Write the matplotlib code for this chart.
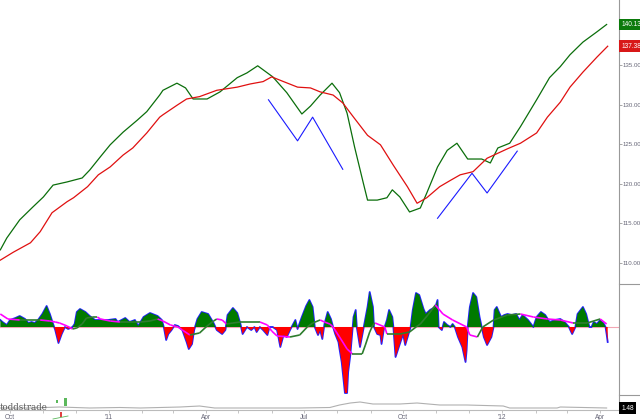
import matplotlib
matplotlib.use("Agg")
import matplotlib.pyplot as plt
import numpy as np
from matplotlib.collections import LineCollection
from matplotlib.lines import Line2D
from matplotlib.patches import Rectangle

W, H = 640, 420
AXIS_RIGHT = 619

# days counted from 1 Oct 2010
green_days = [-9, -3, 9, 21, 31, 40, 53, 67, 74, 84, 93, 105, 118, 127, 139, 142, 155, 163, 170, 183,
              195, 211, 220, 230, 244, 257, 271, 279, 288, 299, 306, 313, 320, 328, 332, 341, 350, 355, 362, 371,
              381, 387, 397, 406, 415, 425, 438, 446, 453, 464, 474, 489, 501, 511, 520, 532, 545, 554]
green_vals = [111.6, 113.1, 115.4, 117.0, 118.3, 119.8, 120.2, 120.7, 121.7, 123.4, 124.9, 126.5, 128.0, 129.1,
              131.2, 131.8, 132.7, 132.1, 130.7, 130.7, 131.6, 133.4, 134.0, 134.9, 133.5, 131.5, 128.8, 129.8,
              131.2, 132.7, 131.5, 128.9, 124.6, 120.1, 117.9, 117.9, 118.2, 119.2, 118.3, 116.4, 116.9, 118.8,
              122.1, 124.2, 125.1, 123.1, 123.1, 122.6, 124.5, 125.1, 127.2, 130.6, 133.4, 134.8, 136.3, 137.9,
              139.2, 140.13]

red_days = [-9, 3, 19, 28, 39, 53, 59, 72, 82, 93, 105, 114, 127, 139, 142, 155, 164, 176, 192, 211,
            223, 235, 243, 254, 267, 279, 288, 300, 309, 319, 332, 344, 356, 369, 378, 387, 399, 409, 418, 430,
            443, 462, 474, 489, 499, 511, 520, 532, 545, 555]
red_vals = [110.3, 111.3, 112.5, 113.9, 116.3, 117.7, 118.2, 119.6, 121.1, 122.1, 123.6, 124.5, 126.4, 128.4,
            128.7, 129.9, 130.7, 131.0, 131.8, 132.2, 132.6, 132.9, 133.5, 132.9, 132.2, 132.1, 131.6, 131.2,
            130.2, 128.4, 126.1, 124.9, 122.3, 119.6, 117.5, 118.2, 119.6, 120.4, 121.1, 121.5, 123.2, 124.4,
            125.1, 126.4, 128.4, 130.3, 132.2, 134.1, 136.0, 137.38]

zig1_days = [240, 267, 281, 309]
zig1_vals = [130.6, 125.4, 128.4, 121.8]
zig2_days = [397, 429, 443, 471]
zig2_vals = [115.6, 121.3, 118.8, 124.1]

osc_days = [-9, -7, -3, 0, 5, 9, 14, 17, 20, 23, 26, 30, 34, 37, 40, 42, 45, 48, 51, 54,
            58, 60, 62, 65, 70, 74, 79, 84, 86, 91, 98, 100, 107, 111, 116, 119, 124, 130, 137, 141,
            143, 145, 147, 150, 153, 156, 160, 164, 166, 169, 171, 174, 178, 184, 189, 192, 197, 200, 202, 207,
            211, 214, 216, 220, 224, 227, 229, 232, 235, 239, 241, 244, 248, 251, 254, 257, 260, 263, 265, 267,
            271, 275, 278, 281, 283, 286, 288, 290, 292, 295, 298, 300, 302, 305, 306, 308, 310, 311, 313, 314,
            316, 318, 319, 321, 322, 325, 328, 332, 334, 337, 338, 341, 344, 345, 347, 350, 352, 355, 356, 358,
            361, 365, 367, 370, 372, 374, 377, 380, 384, 386, 390, 395, 397, 398, 401, 403, 406, 409, 411, 413,
            416, 420, 423, 424, 425, 427, 430, 433, 436, 438, 440, 443, 447, 449, 450, 452, 456, 459, 462, 466,
            470, 473, 476, 481, 486, 489, 493, 497, 501, 506, 511, 515, 519, 522, 525, 527, 532, 535, 538, 540,
            542, 545, 548, 551, 553, 554, 555]
osc_vals = [7, 5, 2, 7, 9, 11, 8, 4, 5, 4, 7, 13, 21, 13, 3, -3, -16, -7, 0, -2,
            0, 3, 15, 18, 15, 11, 7, 7, 7, 7, 8, 5, 9, 5, 7, 1, 10, 14, 11, 7,
            -1, -13, -7, -3, 2, 1, -3, -15, -22, -17, -3, 8, 15, 13, 4, -3, -7, -3, 12, 19,
            14, 3, -7, 0, -3, 0, -5, 0, -3, -8, 0, 0, -3, -20, -8, -10, -3, 3, 7, -2,
            10, 21, 27, 20, 0, -8, -3, -12, 3, 15, 8, 0, -7, -15, -22, -35, -55, -66, -66, -45,
            -28, -3, 10, 17, 0, -20, -3, 20, 35, 20, 0, -7, -8, -17, -3, 7, 17, 10, 0, -30,
            -20, -7, -18, -7, 0, 17, 34, 32, 18, 13, 17, 20, 27, 0, -3, 5, 2, 0, 3, 0,
            -10, -20, -35, -23, 0, 20, 34, 30, 10, 0, -10, -18, -10, 0, 17, 20, 10, 12, 13, 12,
            13, 7, 12, 7, 0, 10, 15, 12, 5, 7, 8, 5, 0, -7, 0, 13, 20, 13, 0, 0,
            5, 3, 7, 4, 0, -7, -15]

sig_days = [-9, -2, 9, 19, 28, 37, 42, 46, 53, 58, 62, 67, 71, 77, 81, 84, 93, 102, 111, 121,
            130, 137, 142, 149, 156, 160, 167, 176, 183, 189, 192, 197, 201, 207, 214, 223, 232, 239, 243, 248,
            260, 269, 276, 281, 288, 292, 297, 300, 306, 313, 318, 327, 330, 334, 337, 339, 348, 350, 362, 371,
            377, 381, 388, 395, 402, 411, 424, 427, 434, 439, 449, 462, 474, 486, 499, 511, 523, 536, 548, 554]
sig_vals = [13, 8, 7, 7, 7, 6, 5, 4, 1, -2, -1, 3, 9, 10, 10, 8, 6, 5, 5, 5,
            6, 8, 6, 2, 0, -3, -8, -6, 1, 6, 8, 7, 3, 4, 5, 5, 5, 2, -4, -9,
            -10, -8, 0, 4, 7, 5, 3, 0, -10, -22, -27, -27, -18, -5, 2, 4, 0, -7, -7, -5,
            0, 3, 12, 22, 13, 7, 0, -8, -10, 0, 7, 12, 13, 10, 8, 7, 4, 4, 8, 3]

mini_days = [-9, 19, 46, 74, 102, 121, 158, 176, 190, 232, 269, 297, 306, 316, 325, 337, 362, 378, 399, 424,
             458, 464, 508, 511, 554]
mini_vals = [2, 2, 3, 2, 2.5, 2, 3, 4, 2, 2, 2, 2.5, 5, 7, 8, 6, 6, 7, 5, 5, 4, 2, 2, 3, 2]

price_ticks = [110, 115, 120, 125, 130, 135]
quarter_days = [0, 92, 182, 273, 365, 457, 548]
quarter_labels = ["Oct", "'11", "Apr", "Jul", "Oct", "'12", "Apr"]
month_days = [31, 61, 123, 151, 212, 243, 304, 335, 396, 426, 488, 517]

XLIM = (-9.3, 565.5)
TICK_COLOR = "#666677"
AXIS_COLOR = "#999999"
SMALL_FONT = "Liberation Sans"
SMALL_SIZE = 4.4


def rect(top, bottom):
    return [0, 1 - bottom / H, AXIS_RIGHT / W, (bottom - top) / H]


def bare(ax):
    for name, spine in ax.spines.items():
        spine.set_visible(name == "right")
        spine.set_color(AXIS_COLOR)
        spine.set_linewidth(0.8)
    ax.set_xlim(*XLIM)
    ax.set_xticks([])
    ax.tick_params(axis="y", left=False, labelleft=False, right=True, labelright=True,
                   length=2, width=0.6, pad=0.5, labelsize=SMALL_SIZE, colors=AXIS_COLOR,
                   labelcolor=TICK_COLOR)


def value_box(ax, y, text, color):
    ax.annotate(text, xy=(1.0, y), xycoords=("axes fraction", "data"), xytext=(1.8, 0),
                textcoords="offset points", ha="left", va="center", fontsize=SMALL_SIZE + 0.3,
                family=SMALL_FONT, color="white",
                bbox=dict(boxstyle="square,pad=0.35", fc=color, ec="none"), annotation_clip=False)


fig = plt.figure(figsize=(W / 100, H / 100), dpi=100)

# price panel
ax1 = fig.add_axes(rect(0, 284))
bare(ax1)
ax1.plot(green_days, green_vals, color="#0b6e0b", lw=0.9)
ax1.plot(red_days, red_vals, color="#e01010", lw=0.9)
ax1.plot(zig1_days, zig1_vals, color="#1a1aff", lw=0.8)
ax1.plot(zig2_days, zig2_vals, color="#1a1aff", lw=0.8)
ax1.set_ylim(107.28, 143.23)
ax1.set_yticks(price_ticks)
ax1.set_yticklabels([f"{v:.2f}" for v in price_ticks], family=SMALL_FONT)
value_box(ax1, green_vals[-1], f"{green_vals[-1]:.2f}", "#0b7a0b")
value_box(ax1, red_vals[-1], f"{red_vals[-1]:.2f}", "#d81818")

# oscillator panel
ax2 = fig.add_axes(rect(284, 395))
bare(ax2)
ax2.set_yticks([])
od = np.array(osc_days, dtype=float)
ov = np.array(osc_vals, dtype=float)
ax2.axhline(0, color="#f2a6b4", lw=0.8, zorder=1)
ax2.plot(od, ov, color="#2020ff", lw=1.3, zorder=2)
ax2.fill_between(od, 0, ov, where=ov >= 0, interpolate=True, color="#007a00", lw=0, zorder=3)
ax2.fill_between(od, 0, ov, where=ov <= 0, interpolate=True, color="#ff0000", lw=0, zorder=3)
sd = np.array(sig_days, dtype=float)
sv = np.array(sig_vals, dtype=float)
segs = np.stack([np.column_stack([sd[:-1], sv[:-1]]), np.column_stack([sd[1:], sv[1:]])], axis=1)
seg_colors = ["#ff00ff" if d < 0 else "#2d7d2d" for d in np.diff(sv)]
ax2.add_collection(LineCollection(segs, colors=seg_colors, linewidths=1.2, zorder=4))
ax2.set_ylim(-68, 43)

# bottom strip
ax3 = fig.add_axes(rect(395, 410))
bare(ax3)
ax3.spines["bottom"].set_visible(True)
ax3.spines["bottom"].set_color("#bbbbbb")
ax3.plot(mini_days, mini_vals, color="#b0b0b0", lw=0.8)
ax3.set_ylim(0, 15)
ax3.set_yticks([])
ax3.set_xticks(quarter_days)
ax3.set_xticklabels(quarter_labels, family=SMALL_FONT)
ax3.set_xticks(month_days, minor=True)
ax3.tick_params(axis="x", which="both", length=2, width=0.6, pad=1, labelsize=SMALL_SIZE + 0.3,
                colors="#bbbbbb", labelcolor=TICK_COLOR)
ax3.annotate("1.48", xy=(1.0, mini_vals[-1]), xycoords=("axes fraction", "data"), xytext=(1.8, 0),
             textcoords="offset points", ha="left", va="center", fontsize=SMALL_SIZE + 0.3,
             family=SMALL_FONT, color="white",
             bbox=dict(boxstyle="square,pad=0.35", fc="black", ec="none"), annotation_clip=False)

# separators right of the axis
for y in (284, 395):
    fig.add_artist(Line2D([AXIS_RIGHT / W, 1], [1 - y / H, 1 - y / H], color=AXIS_COLOR, lw=0.8))

# watermark and tiny logo
fig.text(0.0, 1 - 408 / H, "toddstrade", family="DejaVu Serif", fontsize=6.3, color="#555555",
         ha="left", va="center")
for x, y, w, h, c in [(56, 400, 2, 3, "#5cb85c"), (64, 398, 3, 8, "#5cb85c"), (60, 412, 2, 5, "#e04040")]:
    fig.add_artist(Rectangle((x / W, 1 - (y + h) / H), w / W, h / H, transform=fig.transFigure,
                             fc=c, ec="none"))
fig.add_artist(Line2D([53 / W, 68 / W], [1 - 419 / H, 1 - 416 / H], color="#5cb85c", lw=0.6))

fig.savefig("out.png", dpi=100, facecolor="white")
